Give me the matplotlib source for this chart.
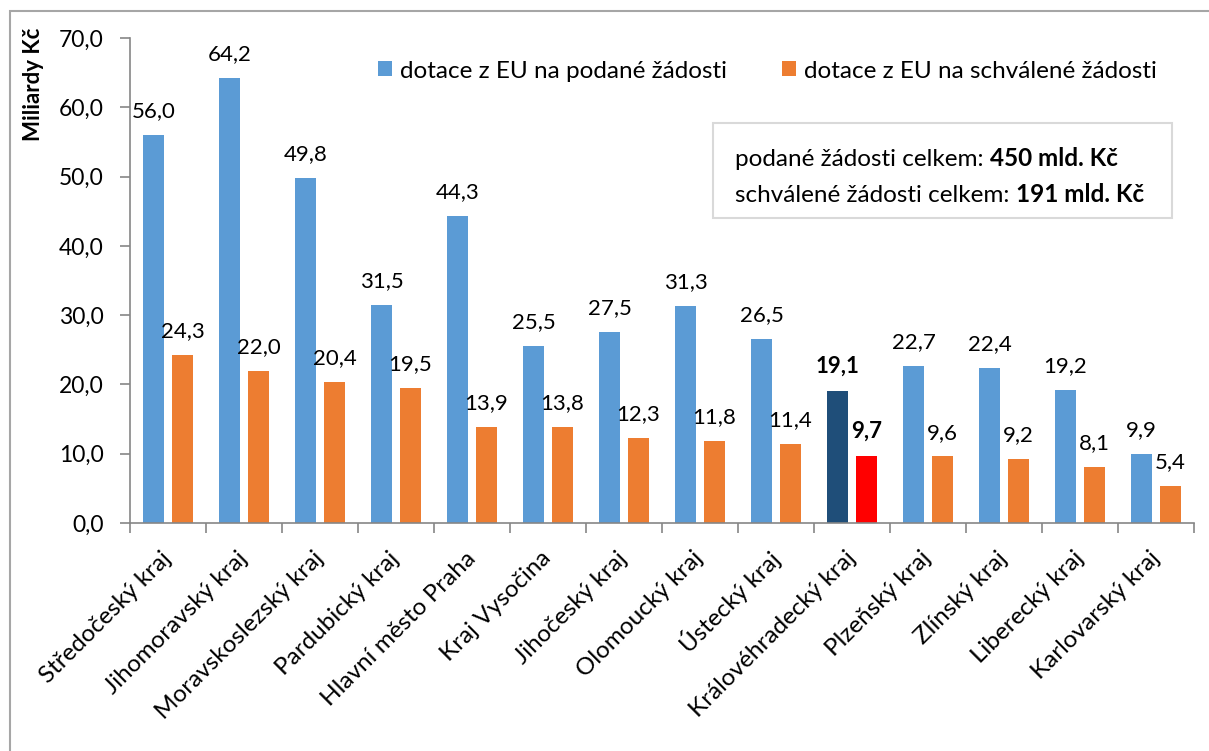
import numpy as np
import matplotlib
matplotlib.use("Agg")
import matplotlib.pyplot as plt
from matplotlib.patches import Rectangle
from matplotlib.text import Annotation

plt.rcParams['font.family'] = ['Lato', 'DejaVu Sans']
plt.rcParams['font.size'] = 16

# --- data ---
kraje = ['Středočeský kraj', 'Jihomoravský kraj', 'Moravskoslezský kraj',
         'Pardubický kraj', 'Hlavní město Praha', 'Kraj Vysočina',
         'Jihočeský kraj', 'Olomoucký kraj', 'Ústecký kraj',
         'Královéhradecký kraj', 'Plzeňský kraj', 'Zlínský kraj',
         'Liberecký kraj', 'Karlovarský kraj']
podane = [56.0, 64.2, 49.8, 31.5, 44.3, 25.5, 27.5, 31.3, 26.5, 19.1, 22.7, 22.4, 19.2, 9.9]
schvalene = [24.3, 22.0, 20.4, 19.5, 13.9, 13.8, 12.3, 11.8, 11.4, 9.7, 9.6, 9.2, 8.1, 5.4]
zvyrazneny = 'Královéhradecký kraj'
legenda = ['dotace z EU na podané žádosti', 'dotace z EU na schválené žádosti']
celkem_podane = '450 mld. Kč'
celkem_schvalene = '191 mld. Kč'
y_ticks = [0, 10, 20, 30, 40, 50, 60, 70]

c_blue = '#5B9BD5'
c_orange = '#ED7D31'
c_dark = '#1F4E79'
c_red = '#FF0000'
c_axis = '#868686'

W, H = 1209, 751
fig = plt.figure(figsize=(W / 100, H / 100), dpi=100)

# vnější rámeček grafu (oříznutý)
fig.patches.append(Rectangle((10 / W, -0.1), 1.2, (H - 11) / H + 0.1,
                             transform=fig.transFigure, fill=False,
                             edgecolor='#A6A6A6', linewidth=1.5))

ax = fig.add_axes([130 / W, (H - 523) / H, (1194 - 130) / W, (523 - 38) / H])

x = np.arange(len(kraje)) + 0.5
bw = 0.276
off = 0.191
hi = kraje.index(zvyrazneny)

col_a = [c_dark if i == hi else c_blue for i in range(len(kraje))]
col_b = [c_red if i == hi else c_orange for i in range(len(kraje))]
bars_a = ax.bar(x - off, podane, bw, color=col_a, label=legenda[0])
bars_b = ax.bar(x + off, schvalene, bw, color=col_b, label=legenda[1])

def fmt(v):
    return f'{v:.1f}'.replace('.', ',')

for i in range(len(kraje)):
    w = 'bold' if i == hi else 'normal'
    ax.annotate(fmt(podane[i]), (x[i] - off, podane[i]), xytext=(0, 10),
                textcoords='offset points', ha='center', va='bottom', fontweight=w)
    ax.annotate(fmt(schvalene[i]), (x[i] + off, schvalene[i]), xytext=(0, 10),
                textcoords='offset points', ha='center', va='bottom', fontweight=w)

ax.set_xlim(0, len(kraje))
ax.set_ylim(0, 70)
ax.set_yticks(y_ticks)
ax.set_yticklabels([fmt(v) for v in y_ticks], fontsize=16.5)
ax.tick_params(axis='y', length=7, color=c_axis, width=1.2, pad=12)

ax.set_xticks(np.arange(len(kraje) + 1))
ax.set_xticklabels([])
ax.tick_params(axis='x', which='major', length=7, color=c_axis, width=1.2)
ax.set_xticks(x, minor=True)
ax.set_xticklabels(kraje, minor=True, rotation=45, ha='right', va='center',
                   rotation_mode='anchor', fontsize=17.5)
ax.tick_params(axis='x', which='minor', length=0, pad=23)

for s in ['top', 'right']:
    ax.spines[s].set_visible(False)
for s in ['left', 'bottom']:
    ax.spines[s].set_color(c_axis)
    ax.spines[s].set_linewidth(1.2)

fig.text(33 / W, (H - 28) / H, 'Miliardy Kč', rotation=90, ha='center', va='top',
         fontsize=16, fontweight='bold')

ax.legend(loc='center left', bbox_to_anchor=((378 - 130) / 1064, (523 - 71) / 485),
          ncol=2, frameon=False, fontsize=17.5, handlelength=0.58, handleheight=0.58,
          handletextpad=0.33, columnspacing=2.26, borderaxespad=0, borderpad=0)

# rámeček se součty
fig.patches.append(Rectangle((713 / W, (H - 218) / H), (1172 - 713) / W, 95 / H,
                             transform=fig.transFigure, facecolor='white',
                             edgecolor='#D9D9D9', linewidth=1.5, zorder=3))
t1 = fig.text(735 / W, (H - 160) / H, 'podané žádosti celkem: ', va='center',
              fontsize=17.5, zorder=4)
t2 = fig.text(735 / W, (H - 196) / H, 'schválené žádosti celkem: ', va='center',
              fontsize=17.5, zorder=4)
for t, s in [(t1, celkem_podane), (t2, celkem_schvalene)]:
    fig.add_artist(Annotation(s, xy=(1, 0), xycoords=t, va='bottom', ha='left',
                              fontsize=17.5, fontweight='bold', zorder=5))

fig.savefig('out.png', dpi=100)
